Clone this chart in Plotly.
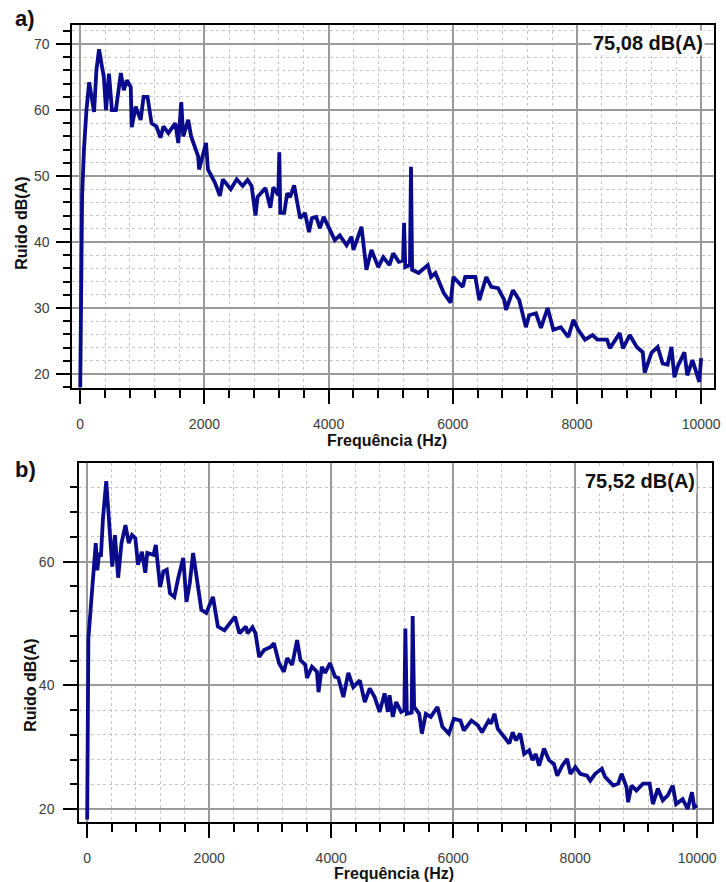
import plotly.graph_objects as go

# ---------------- data ----------------
freq_a = [0, 15, 30, 60, 100, 144, 190, 223, 260, 303, 351, 380, 415, 463, 510, 574,
          654, 702, 750, 813, 829, 893, 973, 1020, 1084, 1148, 1228, 1292, 1340, 1420,
          1531, 1579, 1627, 1659, 1739, 1786, 1898, 1914, 2026, 2057, 2169, 2249, 2297,
          2424, 2520, 2616, 2695, 2760, 2823, 2855, 2983, 3062, 3110, 3190, 3206, 3222,
          3285, 3333, 3380, 3445, 3541, 3620, 3684, 3730, 3800, 3860, 3920, 4019, 4100,
          4180, 4290, 4370, 4400, 4530, 4609, 4690, 4800, 4880, 4980, 5040, 5130, 5200,
          5215, 5235, 5310, 5327, 5345, 5450, 5598, 5650, 5720, 5853, 5965, 6010, 6160,
          6200, 6364, 6427, 6539, 6620, 6730, 6830, 6858, 6970, 7070, 7177, 7230, 7340,
          7420, 7528, 7620, 7740, 7860, 7943, 8020, 8130, 8250, 8330, 8485, 8530, 8690,
          8740, 8850, 8963, 9060, 9091, 9200, 9300, 9380, 9460, 9522, 9570, 9620, 9730,
          9777, 9860, 9970, 10000]
db_a = [18.0, 40.0, 47.0, 54.0, 60.0, 64.2, 62.0, 59.7, 66.0, 69.2, 66.5, 65.0, 60.0,
        65.5, 60.0, 60.0, 65.6, 63.0, 64.5, 63.5, 57.4, 60.5, 58.5, 62.0, 62.0, 58.0,
        57.5, 55.8, 57.5, 56.5, 58.0, 55.0, 61.2, 56.0, 58.5, 56.0, 53.0, 51.0, 55.0,
        51.0, 49.0, 47.0, 49.5, 48.0, 49.5, 48.5, 49.4, 48.5, 44.0, 46.8, 48.2, 45.2,
        48.3, 47.1, 53.6, 44.4, 44.4, 47.4, 46.8, 48.6, 43.6, 44.4, 41.5, 43.6, 43.8,
        42.1, 43.8, 41.8, 40.3, 41.0, 39.5, 40.8, 38.8, 42.3, 35.8, 38.8, 36.2, 37.7,
        36.5, 38.3, 37.0, 37.2, 42.9, 36.2, 36.5, 51.4, 35.8, 35.3, 36.5, 34.7, 35.3,
        32.3, 30.8, 34.7, 33.2, 34.7, 34.7, 31.2, 34.7, 33.2, 33.0, 31.2, 29.7, 32.7,
        31.2, 27.1, 28.9, 29.2, 27.0, 30.0, 26.7, 27.1, 25.6, 28.2, 26.7, 25.2, 25.9,
        25.2, 25.2, 23.9, 26.2, 23.9, 25.9, 24.1, 23.3, 20.2, 23.2, 24.1, 21.6, 21.4,
        24.1, 19.5, 21.1, 23.3, 19.8, 22.1, 18.8, 22.4]

freq_b = [0, 5, 12, 20, 60, 114, 141, 167, 195, 225, 260, 313, 357, 411, 455, 508, 563,
          628, 682, 735, 790, 833, 898, 953, 985, 1088, 1125, 1196, 1250, 1305, 1358,
          1429, 1494, 1575, 1628, 1682, 1737, 1791, 1872, 1953, 2062, 2143, 2250, 2424,
          2495, 2602, 2630, 2710, 2760, 2819, 2900, 3008, 3062, 3144, 3225, 3279, 3360,
          3442, 3496, 3577, 3604, 3685, 3766, 3793, 3847, 3901, 3982, 4063, 4118, 4200,
          4281, 4362, 4470, 4551, 4632, 4713, 4794, 4875, 4930, 4957, 5011, 5065, 5146,
          5200, 5216, 5240, 5320, 5336, 5360, 5443, 5487, 5552, 5633, 5742, 5823, 5930,
          6011, 6120, 6174, 6299, 6407, 6472, 6580, 6620, 6677, 6730, 6840, 6920, 6975,
          7028, 7099, 7164, 7245, 7300, 7354, 7408, 7489, 7570, 7651, 7706, 7787, 7868,
          7922, 8003, 8084, 8193, 8247, 8328, 8437, 8490, 8625, 8706, 8761, 8842, 8868,
          8923, 9004, 9112, 9221, 9274, 9355, 9436, 9518, 9599, 9654, 9762, 9843, 9914,
          9951, 10000]
db_b = [18.3, 31.0, 42.0, 47.5, 52.7, 59.8, 63.0, 58.6, 61.4, 60.8, 67.1, 73.0, 66.8,
        59.2, 64.3, 57.4, 63.0, 65.9, 63.0, 64.3, 63.8, 59.5, 61.6, 58.2, 61.4, 61.1,
        62.7, 55.9, 58.4, 58.7, 54.9, 54.3, 57.4, 60.6, 53.5, 56.5, 61.4, 57.8, 52.2,
        51.7, 54.3, 49.5, 48.9, 51.1, 48.4, 49.5, 48.4, 49.4, 48.4, 44.6, 45.7, 46.2,
        46.8, 43.6, 42.2, 44.4, 43.3, 47.3, 44.1, 43.3, 41.2, 43.0, 42.2, 38.9, 43.0,
        42.0, 43.6, 41.4, 41.2, 38.1, 42.0, 39.7, 40.8, 37.3, 39.5, 38.1, 35.7, 38.7,
        35.7, 38.4, 34.9, 37.3, 35.7, 36.0, 49.2, 35.4, 35.6, 51.2, 36.5, 35.4, 32.2,
        35.4, 34.9, 36.5, 33.3, 32.2, 34.6, 34.3, 32.7, 34.3, 33.5, 32.4, 34.3, 33.8,
        35.4, 33.0, 31.6, 30.6, 32.4, 31.1, 32.2, 28.9, 29.5, 27.9, 28.9, 27.0, 29.8,
        27.9, 27.3, 25.4, 27.0, 28.1, 25.7, 26.8, 25.7, 25.4, 24.6, 25.7, 26.5, 25.2,
        23.8, 24.1, 25.7, 23.5, 21.1, 23.8, 23.0, 24.1, 24.1, 20.8, 23.3, 21.4, 22.2,
        23.8, 20.8, 21.6, 20.0, 22.7, 20.3, 20.6]

panel_labels = ["a)", "b)"]
level_labels = ["75,08 dB(A)", "75,52 dB(A)"]
x_title = "Frequência (Hz)"
y_title = "Ruido dB(A)"

# ---------------- layout helpers ----------------
W, H = 726, 882
def px(x):
    return x / W
def py(y):
    return 1 - y / H

FONT = "Arial, Liberation Sans, sans-serif"
LINE = "#0a0a8c"
MAJ_GRID = "#9a9a9a"
MIN_GRID = "#c6c6c6"
TICKFONT = dict(family=FONT, size=14, color="#3c3c3c")

def xaxis_cfg(domain, anchor, rng):
    return dict(domain=domain, anchor=anchor, range=rng, tick0=0, dtick=2000,
                tickformat="d",
                ticks="outside", ticklen=14, tickwidth=2, tickcolor="black",
                showline=True, linecolor="black", linewidth=2, mirror=True,
                showgrid=True, gridcolor=MAJ_GRID, gridwidth=1.5, zeroline=False,
                tickfont=TICKFONT, ticklabelstandoff=8,
                minor=dict(tick0=0, dtick=400, ticks="outside", ticklen=8, tickwidth=2,
                           tickcolor="black", showgrid=True, gridcolor=MIN_GRID,
                           griddash="dot", gridwidth=1.2))

def yaxis_cfg(domain, anchor, rng, dmaj, dmin, standoff):
    return dict(domain=domain, anchor=anchor, range=rng, tick0=0, dtick=dmaj,
                tickformat="d",
                ticks="outside", ticklen=14, tickwidth=2, tickcolor="black",
                showline=True, linecolor="black", linewidth=2, mirror=True,
                showgrid=True, gridcolor=MAJ_GRID, gridwidth=1.5, zeroline=False,
                tickfont=TICKFONT, ticklabelstandoff=standoff,
                minor=dict(tick0=0, dtick=dmin, ticks="outside", ticklen=7, tickwidth=2,
                           tickcolor="black", showgrid=True, gridcolor=MIN_GRID,
                           griddash="dot", gridwidth=1.2))

fig = go.Figure()
fig.add_trace(go.Scatter(x=freq_a, y=db_a, mode="lines", xaxis="x", yaxis="y",
                         line=dict(color=LINE, width=3.8), hoverinfo="skip"))
fig.add_trace(go.Scatter(x=freq_b, y=db_b, mode="lines", xaxis="x2", yaxis="y2",
                         line=dict(color=LINE, width=3.8), hoverinfo="skip"))

annotations = []
def ann(text, x, y, size, angle=0, bg=None):
    d = dict(text=text, x=px(x), y=py(y), xref="paper", yref="paper",
             xanchor="center", yanchor="middle", showarrow=False, textangle=angle,
             font=dict(family=FONT, size=size, color="#111111"))
    if bg:
        d.update(bgcolor=bg, borderpad=1)
    annotations.append(d)

ann("<b>%s</b>" % panel_labels[0], 25, 19, 22)
ann("<b>%s</b>" % panel_labels[1], 26, 469, 22)
ann("<b>%s</b>" % level_labels[0], 654, 43, 20, bg="white")
ann("<b>%s</b>" % level_labels[1], 646, 481, 20, bg="white")
ann("<b>%s</b>" % y_title, 21, 223, 16, angle=-90)
ann("<b>%s</b>" % y_title, 30, 685, 16, angle=-90)
ann("<b>%s</b>" % x_title, 391, 440, 16)
ann("<b>%s</b>" % x_title, 398, 873, 16)

fig.update_layout(
    width=W, height=H, margin=dict(l=0, r=0, t=0, b=0),
    paper_bgcolor="white", plot_bgcolor="white", showlegend=False,
    xaxis=xaxis_cfg([px(73), px(721)], "y", [-128, 10208]),
    yaxis=yaxis_cfg([py(388), py(25)], "x", [17.88, 72.88], 10, 2, 4),
    xaxis2=xaxis_cfg([px(80), px(719)], "y2", [-130, 10244]),
    yaxis2=yaxis_cfg([py(822), py(463)], "x2", [17.9, 75.95], 20, 4, 6),
    annotations=annotations,
)

fig.write_html("out.html")
